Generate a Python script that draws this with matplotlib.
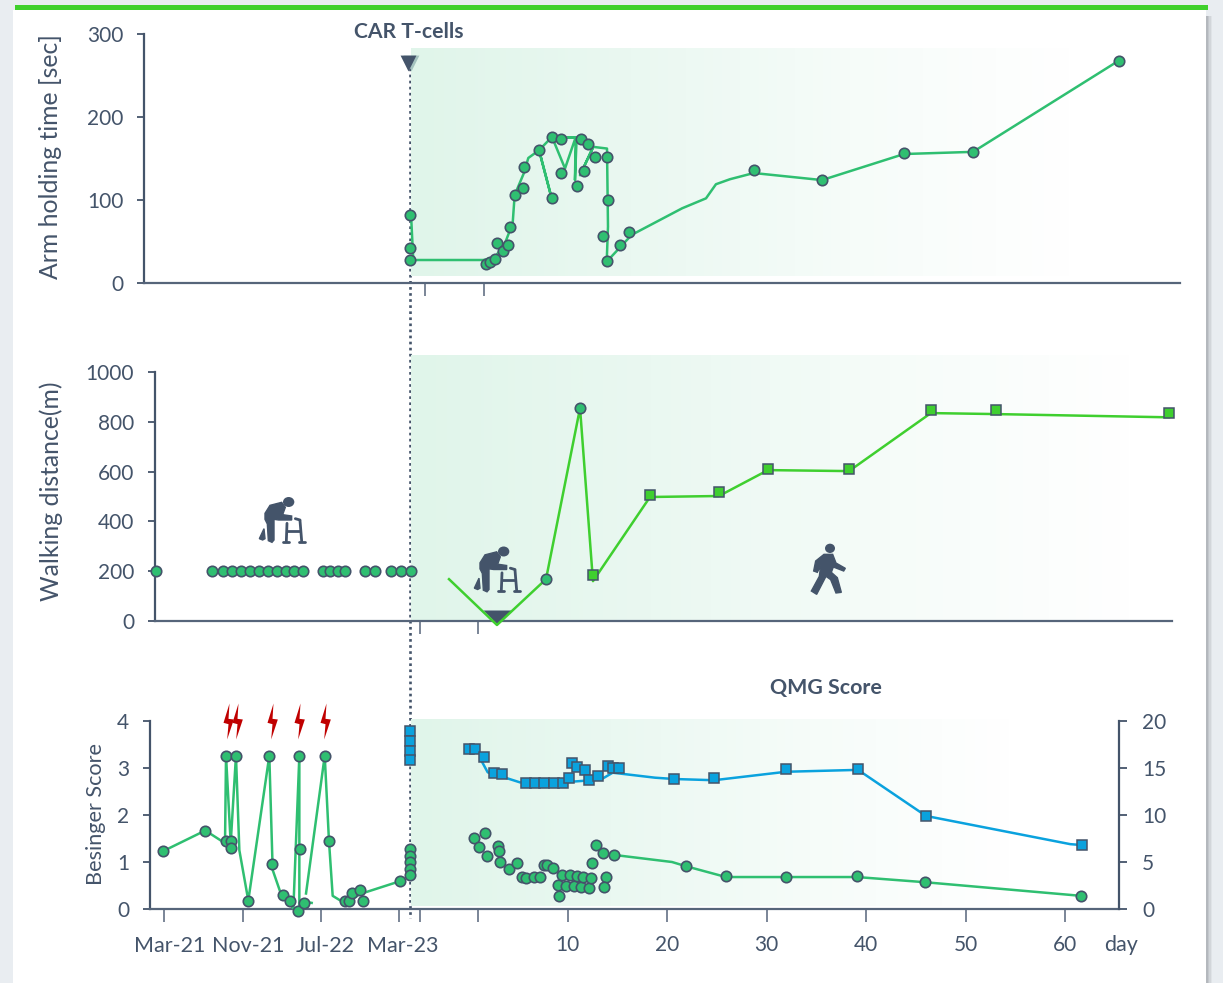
import numpy as np
import matplotlib
matplotlib.use('Agg')
import matplotlib.pyplot as plt
from matplotlib.colors import LinearSegmentedColormap
from matplotlib.lines import Line2D
from matplotlib.patches import Ellipse, Polygon, Rectangle
from matplotlib.path import Path

plt.rcParams['font.family'] = ['Lato', 'DejaVu Sans']

W, H = 1223, 983
# pixels per day and the pixel of day 0, all three panels share them
PX_DAY = 9.95
PX_ZERO = 468.2

DARK = '#44546a'
AXIS = '#56657a'
GREEN = '#2fbf71'
LIME = '#3fcf2f'
BLUE = '#0aa2de'

# top panel: arm holding time
arm_days = [-5.85, -5.85, -5.85, 1.76, 2.16, 2.66, 2.89, 3.5, 3.97, 4.2, 4.67, 5.54, 5.58, 7.12,
            8.39, 8.42, 9.36, 9.36, 10.93, 11.34, 11.67, 12.04, 12.74, 13.95, 14.05, 13.55, 13.92,
            15.26, 16.19, 28.72, 35.56, 43.8, 50.74, 65.4]
arm_secs = [82, 42, 28, 23, 25, 29, 48, 38.5, 46, 67, 106, 114, 140, 160,
            102, 176, 174, 133, 116.5, 174, 135, 168, 152, 152, 100, 57, 26,
            46, 61, 136, 124, 157, 158, 268]
arm_line_days = [-5.72, -5.52, 1.52, 2.69, 3.7, 4.47, 4.67, 5.6, 6.04, 7.12, 8.39, 7.12, 8.42, 9.73,
                 10.8, 9.3, 10.8, 10.73, 10.9, 11.34, 12.57, 11.24, 12.57, 13.95, 14.05, 13.92,
                 16.43, 21.5, 23.9, 24.9, 26.3, 28.7, 35.56, 43.8, 50.74, 65.4]
arm_line_secs = [76, 27.7, 27.7, 31, 48, 72, 106, 132.5, 150.6, 160, 102, 160, 176, 138,
                 175.5, 175.5, 175.5, 124, 175.5, 174, 164, 130, 164, 162, 68, 25.7,
                 58, 90, 102, 119, 125, 132.5, 124, 155.4, 158, 268]

# middle panel: walking distance
walk_pre_days = [-31.38, -25.75, -24.67, -23.77, -22.86, -21.96, -21.06, -20.15, -19.25, -18.34,
                 -17.48, -16.57, -14.56, -13.86, -13.09, -12.35, -10.34, -9.34, -7.79, -6.78, -5.78]
walk_pre_m = [200] * 21
walk_circle_days = [7.82, 11.24]
walk_circle_m = [168, 855]
walk_square_days = [12.54, 18.27, 25.2, 30.13, 38.27, 46.5, 53.04, 70.43]
walk_square_m = [185, 506, 518, 610, 610, 847, 847, 835]
walk_line_days = [-1.93, 2.89, 7.82, 11.24, 12.54, 18.27, 25.2, 30.13, 38.27, 46.5, 53.04, 70.43]
walk_line_m = [168, -16, 168, 855, 160, 498, 502, 606, 602, 835, 831, 818]

# bottom panel: Besinger score (left axis)
bes_pre_days = [-30.67, -26.42, -24.34, -24.34, -23.81, -23.81, -23.34, -22.16, -19.99, -19.69,
                -18.58, -17.91, -17.14, -16.97, -16.87, -16.5, -14.42, -13.99, -12.38, -12.01,
                -11.71, -10.84, -10.57, -6.88, -5.85, -5.85, -5.85, -5.85, -5.85]
bes_pre_score = [1.23, 1.67, 3.26, 1.44, 1.44, 1.30, 3.26, 0.18, 3.26, 0.96,
                 0.30, 0.18, -0.04, 3.26, 1.28, 0.13, 3.26, 1.44, 0.16, 0.16,
                 0.34, 0.40, 0.18, 0.59, 1.27, 1.13, 0.99, 0.85, 0.72]
bes_line_days = [-30.67, -26.42, -24.44, -24.34, -23.87, -23.34, -23.0, -22.1, -19.99, -19.65, -18.9,
                 -17.57, -16.97, -16.97, -16.5, -15.73, np.nan, -16.3, -14.42, -13.99, -13.62,
                 -12.38, -10.84, -6.88]
bes_line_score = [1.23, 1.67, 1.40, 3.26, 1.40, 3.26, 1.25, 0.18, 3.26, 0.83, 0.37,
                  0.01, 3.26, -0.02, 0.16, 0.13, np.nan, 0.33, 3.26, 1.44, 0.28,
                  0.12, 0.32, 0.59]
bes_post_days = [0.61, 1.66, 1.12, 1.92, 3.03, 3.1, 3.23, 4.13, 4.93, 5.41, 5.78, 6.64, 7.22, 7.62,
                 7.89, 8.52, 9.43, 9.05, 9.16, 9.83, 10.23, 10.63, 10.9, 11.31, 11.57, 12.14, 12.37,
                 12.41, 12.87, 13.58, 13.82, 13.62, 14.68, 21.89, 25.91, 31.94, 39.06, 45.9, 61.59]
bes_post_score = [1.51, 1.61, 1.31, 1.13, 1.33, 1.23, 0.99, 0.85, 0.98, 0.68, 0.66, 0.69, 0.69, 0.94,
                  0.94, 0.88, 0.73, 0.52, 0.28, 0.50, 0.72, 0.49, 0.70, 0.47, 0.68, 0.45, 0.67,
                  0.98, 1.36, 1.20, 0.68, 0.47, 1.15, 0.91, 0.70, 0.68, 0.70, 0.57, 0.28]
bes_post_line_days = [14.68, 20.48, 21.89, 25.91, 31.94, 39.06, 45.9, 61.59]
bes_post_line_score = [1.15, 1.0, 0.91, 0.68, 0.68, 0.68, 0.57, 0.28]

# bottom panel: QMG score (right axis)
qmg_days = [-5.82, -5.82, -5.82, -5.82, 0.08, 0.71, 1.56, 2.56, 3.43, 5.78, 6.71, 7.62, 8.62, 9.5,
            10.16, 10.43, 10.96, 11.74, 12.17, 13.08, 14.05, 14.52, 15.19, 20.68, 24.7, 31.94,
            39.18, 46.01, 61.69]
qmg_score = [18.9, 17.9, 16.8, 15.8, 17.0, 17.0, 16.2, 14.5, 14.4, 13.4, 13.4, 13.4, 13.4, 13.4,
             13.9, 15.5, 15.1, 14.8, 13.7, 14.1, 15.2, 15.0, 15.0, 13.8, 13.9, 14.9,
             14.9, 9.9, 6.8]
qmg_line_days = [1.29, 1.96, 3.43, 5.21, 9.5, 10.23, 12.17, 13.42, 14.52, 18.77, 20.68, 24.7, 31.94,
                 39.18, 46.01, 60.5, 61.69]
qmg_line_score = [15.85, 14.54, 14.07, 13.47, 13.47, 13.53, 13.68, 13.82, 14.5, 13.97, 13.83, 13.7,
                  14.6, 14.8, 9.9, 6.9, 6.8]

relapse_days = [-24.11, -23.2, -19.69, -17.0, -14.42]
arm_ticks = [-4.34, 1.59]
walk_ticks = [-4.85, 1.03]
bottom_ticks = [-30.57, -22.64, -14.79, -6.95, -4.85, 1.0, 10, 20, 30, 40, 50, 60]
bottom_labels = ['', '', '', '', '', '', '10', '20', '30', '40', '50', '60']
date_labels = ['Mar-21', 'Nov-21', 'Jul-22', 'Mar-23']


def day(px):
    return (px - PX_ZERO) / PX_DAY


def make_axes(left, right, top, bottom):
    a = fig.add_axes([left / W, 1 - bottom / H, (right - left) / W, (bottom - top) / H])
    a.set_xlim(day(left), day(right))
    a.patch.set_alpha(0)
    for s in ['top', 'right']:
        a.spines[s].set_visible(False)
    a.spines['left'].set_color(DARK)
    a.spines['left'].set_linewidth(1.6)
    a.spines['bottom'].set_color(AXIS)
    a.spines['bottom'].set_linewidth(1.6)
    a.tick_params(axis='y', length=5, width=1.3, color=DARK, labelcolor=DARK, labelsize=15, pad=10)
    a.tick_params(axis='x', length=9, width=1.3, color='#6f7c8f', labelcolor=DARK, labelsize=15)
    return a


def shade(a, px_end, y0, y1):
    grad = np.linspace(0, 1, 256).reshape(1, -1)
    a.imshow(grad, cmap=shade_cmap, aspect='auto', zorder=0, clip_on=False,
             extent=(day(411), day(px_end), y0, y1), vmin=0, vmax=1)


def circles(a, x, y):
    a.plot(x, y, ls='none', marker='o', ms=7.5, mfc=GREEN, mec=DARK, mew=1.2, zorder=5, clip_on=False)


def ftext(px, py, s, **kw):
    kw.setdefault('color', DARK)
    fig.text(px / W, 1 - py / H, s, ha='center', va='center', **kw)


def px_points(x0, y0, pts):
    # icon outlines were measured on a 3x crop
    return [((x0 + p[0] / 3) / W, 1 - (y0 + p[1] / 3) / H) for p in pts]


def add_shape(x0, y0, pts):
    fig.add_artist(Polygon(px_points(x0, y0, pts), closed=True, fc=DARK, ec=DARK, lw=1.0,
                           transform=fig.transFigure, zorder=4))


def add_head(x0, y0, cx, cy, rx, ry):
    fig.add_artist(Ellipse(((x0 + cx / 3) / W, 1 - (y0 + cy / 3) / H), 2 * rx / 3 / W, 2 * ry / 3 / H,
                           fc=DARK, ec='none', transform=fig.transFigure, zorder=4))


def add_bar(x0, y0, p, q):
    (a, b), (c, d) = px_points(x0, y0, [p, q])
    fig.add_artist(Line2D([a, c], [b, d], color=DARK, lw=2.0, solid_capstyle='round',
                          transform=fig.transFigure, zorder=4))


def walker(x0, y0):
    add_head(x0, y0, 116, 36, 17, 15)
    add_shape(x0, y0, [(45, 70), (60, 46), (95, 37), (106, 52), (98, 74), (125, 78), (125, 90), (86, 90),
                       (72, 88), (72, 150), (66, 157), (55, 152), (52, 102), (45, 88)])
    add_shape(x0, y0, [(42, 116), (28, 146), (38, 150), (45, 146)])
    add_bar(x0, y0, (111, 100), (109, 153))
    add_bar(x0, y0, (150, 92), (155, 153))
    add_bar(x0, y0, (136, 86), (150, 90))
    add_bar(x0, y0, (111, 122), (151, 122))
    add_bar(x0, y0, (100, 155), (118, 155))
    add_bar(x0, y0, (146, 155), (164, 155))


def pedestrian(x0, y0):
    add_head(x0, y0, 90, 40, 15, 14)
    add_shape(x0, y0, [(72, 58), (98, 58), (108, 84), (136, 100), (131, 108), (100, 96), (94, 112),
                       (112, 128), (124, 172), (108, 174), (92, 134), (78, 124), (50, 178), (34, 168),
                       (58, 124), (62, 92), (52, 112), (41, 108), (47, 78)])


fig = plt.figure(figsize=(W / 100, H / 100), dpi=100, facecolor='#e9edf1')

# page card behind the plot, the shadow is a few fading strips
for i, c in enumerate(['#b4b8bd', '#c3c7cc', '#d2d6da', '#dfe3e7']):
    fig.add_artist(Rectangle(((1206 + i * 1.5) / W, 0), 1.5 / W, 1 - 16 / H, fc=c, ec='none',
                             transform=fig.transFigure, zorder=-3))
fig.add_artist(Rectangle((13 / W, 0), 1193 / W, 1 - 10 / H, fc='white', ec='none',
                         transform=fig.transFigure, zorder=-2))
fig.add_artist(Rectangle((15 / W, 1 - 10 / H), 1193 / W, 5 / H, fc='#3fd02c', ec='none',
                         transform=fig.transFigure, zorder=-1))

shade_cmap = LinearSegmentedColormap.from_list('fade', ['#e0f5ea', '#eaf8f1', '#f6fcf9', 'white'])

# top panel
ax1 = make_axes(144, 1180, 34, 283)
ax1.set_ylim(0, 300)
shade(ax1, 1070, 8.4, 282)
ax1.set_xlim(day(144), day(1180))
ax1.set_ylim(0, 300)
ax1.set_yticks([0, 100, 200, 300])
ax1.set_xticks(arm_ticks)
ax1.set_xticklabels([])
ax1.plot(arm_line_days, arm_line_secs, color=GREEN, lw=1.8, zorder=4)
circles(ax1, arm_days, arm_secs)
ax1.scatter([day(411)], [264.5], marker='v', s=130, color='#7fa3a3', alpha=0.6, linewidths=0, zorder=6,
            clip_on=False)
ax1.scatter([day(408)], [264.5], marker='v', s=130, color=DARK, linewidths=0, zorder=6, clip_on=False)

# middle panel
ax2 = make_axes(155, 1172, 372, 621)
ax2.set_ylim(0, 1000)
shade(ax2, 1130, 0, 1068)
ax2.set_xlim(day(155), day(1172))
ax2.set_ylim(0, 1000)
ax2.set_yticks([0, 200, 400, 600, 800, 1000])
ax2.set_xticks(walk_ticks)
ax2.set_xticklabels([])
wide_tri = Path([(-14, 7), (14, 7), (0, -7), (-14, 7)], closed=True)
ax2.scatter([walk_line_days[1]], [16], marker=wide_tri, s=406, color=DARK, linewidths=0, zorder=3, clip_on=False)
ax2.plot(walk_line_days, walk_line_m, color=LIME, lw=1.8, zorder=4, clip_on=False)
circles(ax2, walk_pre_days, walk_pre_m)
circles(ax2, walk_circle_days, walk_circle_m)
ax2.plot(walk_square_days, walk_square_m, ls='none', marker='s', ms=7.2, mfc=LIME, mec=DARK, mew=1.1, zorder=5,
         clip_on=False)

# bottom panel
ax3 = make_axes(150, 1119, 721, 909)
ax3.set_ylim(0, 4)
shade(ax3, 1010, 0.06, 4.02)
ax3.set_xlim(day(150), day(1119))
ax3.set_ylim(0, 4)
ax3.set_yticks([0, 1, 2, 3, 4])
ax3.set_xticks(bottom_ticks)
ax3.set_xticklabels(bottom_labels)
ax3.tick_params(axis='x', pad=10)
ax3.plot(bes_line_days, bes_line_score, color=GREEN, lw=1.8, zorder=4, clip_on=False)
ax3.plot(bes_post_line_days, bes_post_line_score, color=GREEN, lw=1.8, zorder=4)
circles(ax3, bes_pre_days, bes_pre_score)
circles(ax3, bes_post_days, bes_post_score)
bolt = Path([(3, 54), (-15, -4), (0, -8), (-4, -54), (16, 6), (0, 8), (3, 54)], closed=True)
ax3.scatter(relapse_days, [4.0] * len(relapse_days), marker=bolt, s=672, color='#c00000', linewidths=0,
            zorder=6, clip_on=False)

ax3r = ax3.twinx()
ax3r.patch.set_alpha(0)
ax3r.set_ylim(0, 20)
ax3r.set_yticks([0, 5, 10, 15, 20])
for s in ['top', 'left', 'bottom']:
    ax3r.spines[s].set_visible(False)
ax3r.spines['right'].set_color(DARK)
ax3r.spines['right'].set_linewidth(1.6)
ax3r.tick_params(axis='y', length=5.5, width=1.3, color=DARK, labelcolor=DARK, labelsize=15, pad=11)
ax3r.plot(qmg_line_days, qmg_line_score, color=BLUE, lw=1.8, zorder=4)
ax3r.plot(qmg_days, qmg_score, ls='none', marker='s', ms=7.2, mfc=BLUE, mec=DARK, mew=1.1, zorder=5,
          clip_on=False)

# CAR T-cell infusion marker runs through all panels, behind the points
fig.add_artist(Line2D([409.5 / W, 409.5 / W], [1 - 62 / H, 1 - 918 / H], color=DARK, lw=1.9,
                      ls=(0, (1, 1.3)), transform=fig.transFigure, zorder=-0.5))

walker(250, 490)
walker(465, 539.5)
pedestrian(800, 535)

ftext(51, 157, 'Arm holding time [sec]', rotation=90, fontsize=17.8)
ftext(51, 491, 'Walking distance(m)', rotation=90, fontsize=17.8)
ftext(96, 814, 'Besinger Score', rotation=90, fontsize=15.6)
ftext(409, 32, 'CAR T-cells', fontsize=15.2, fontweight='bold')
ftext(826, 688, 'QMG Score', fontsize=15.4, fontweight='bold')
ftext(1121, 945, 'day', fontsize=15.5)
for px, lab in zip([170, 248, 325, 403], date_labels):
    ftext(px, 946, lab, fontsize=15.5)

fig.savefig('out.png', dpi=100, facecolor=fig.get_facecolor())
